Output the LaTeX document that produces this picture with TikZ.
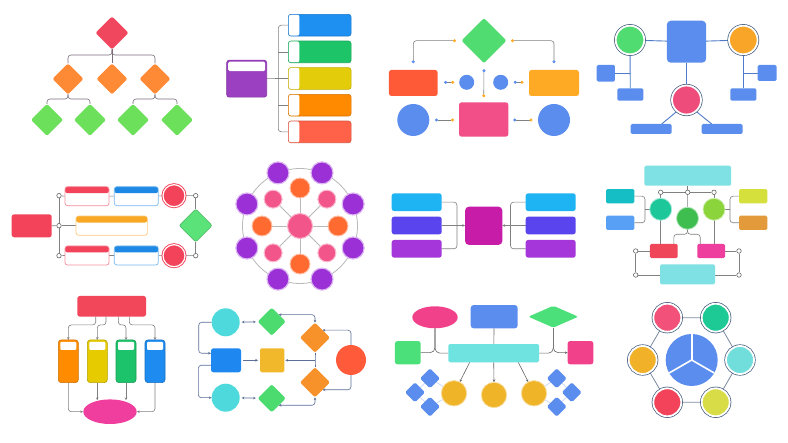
\documentclass[tikz,border=0pt]{standalone}
\usetikzlibrary{shapes.geometric,arrows.meta}
\pgfdeclarelayer{back}
\pgfdeclarelayer{bg}
\pgfsetlayers{back,bg,main}
\definecolor{lnA}{HTML}{7A6E7A}
\definecolor{lnG}{HTML}{808080}
\definecolor{ringcol}{HTML}{42597A}
\definecolor{c1r}{HTML}{F0465E}
\definecolor{c1o}{HTML}{FF8A35}
\definecolor{c1g}{HTML}{6CE05A}
\definecolor{c2p}{HTML}{9A40C0}
\definecolor{c2b}{HTML}{1E90F2}
\definecolor{c2g}{HTML}{1EC468}
\definecolor{c2y}{HTML}{E3CC0A}
\definecolor{c2o}{HTML}{FF8A00}
\definecolor{c2r}{HTML}{FF6249}
\definecolor{c3g}{HTML}{50DC70}
\definecolor{c3r}{HTML}{FF5A37}
\definecolor{c3o}{HTML}{FFAA25}
\definecolor{cblu}{HTML}{5B8DEF}
\definecolor{c3p}{HTML}{F24E88}
\definecolor{c4o}{HTML}{F8A528}
\definecolor{c4p}{HTML}{EE4D7C}
\definecolor{c4l}{HTML}{4F7BC9}
\definecolor{c5r}{HTML}{F2435A}
\definecolor{c5b}{HTML}{1E88E5}
\definecolor{c5o}{HTML}{F9A825}
\definecolor{c5g}{HTML}{5BE37A}
\definecolor{c6u}{HTML}{9B30D6}
\definecolor{c6o}{HTML}{FF6A30}
\definecolor{c6p}{HTML}{F2558A}
\definecolor{c7c}{HTML}{1EB3F2}
\definecolor{c7i}{HTML}{5A44EE}
\definecolor{c7u}{HTML}{A436DA}
\definecolor{c7m}{HTML}{C61CA8}
\definecolor{c8c}{HTML}{7FE1E3}
\definecolor{c8t}{HTML}{1CC79A}
\definecolor{c8g}{HTML}{3DBE4E}
\definecolor{c8l}{HTML}{8CD43C}
\definecolor{c8a}{HTML}{14BEC4}
\definecolor{c8b}{HTML}{58A0F5}
\definecolor{c8y}{HTML}{D6E03C}
\definecolor{c8o}{HTML}{E39A3A}
\definecolor{c8r}{HTML}{F0465A}
\definecolor{c8p}{HTML}{EE3E9E}
\definecolor{c9r}{HTML}{F2475A}
\definecolor{c9o}{HTML}{FF8C00}
\definecolor{c9y}{HTML}{E5CB00}
\definecolor{c9g}{HTML}{1DC36A}
\definecolor{c9b}{HTML}{1E8BF0}
\definecolor{c9p}{HTML}{F03E9E}
\definecolor{c10c}{HTML}{4EDADC}
\definecolor{c10b}{HTML}{1E88F0}
\definecolor{c10g}{HTML}{4CDB6E}
\definecolor{c10y}{HTML}{F0B82A}
\definecolor{c10o}{HTML}{F7922A}
\definecolor{c10r}{HTML}{FF5B3A}
\definecolor{c10l}{HTML}{5C6F96}
\definecolor{c11p}{HTML}{F0418A}
\definecolor{c11g}{HTML}{4CE07A}
\definecolor{c11c}{HTML}{6EE3E0}
\definecolor{c11y}{HTML}{F0B429}
\definecolor{c12a}{HTML}{F2527A}
\definecolor{c12b}{HTML}{1DCA95}
\definecolor{c12c}{HTML}{F1B22A}
\definecolor{c12d}{HTML}{71DEDC}
\definecolor{c12e}{HTML}{F2435A}
\definecolor{c12f}{HTML}{D8DC46}
\begin{document}
\begin{tikzpicture}[x=1pt,y=-1pt,
  bx/.style={rectangle, rounded corners=2.5pt, inner sep=0pt, outer sep=0pt},
  sz/.style 2 args={minimum width=#1pt, minimum height=#2pt},
  cr/.style={circle, inner sep=0pt, outer sep=0pt, minimum size=#1pt},
  dm/.style={diamond, inner sep=0pt, outer sep=0pt, rounded corners=2pt, minimum width=#1pt, minimum height=#1pt},
  ln/.style={draw=lnG, line width=0.6pt, rounded corners=3pt},
  band/.style={path picture={\fill[white,rounded corners=1.5pt] ([xshift=1.5pt,yshift=-1.5pt]path picture bounding box.north west) rectangle ([xshift=-1.5pt,yshift=-#1pt]path picture bounding box.north east);}},
  tab/.style={path picture={\fill[white] (path picture bounding box.north west) rectangle ([xshift=11pt]path picture bounding box.south west);}},
  hdr/.style={fill=white, draw=#1!60!white, line width=0.7pt, path picture={\fill[#1] (path picture bounding box.north west) rectangle ([yshift=-6.5pt]path picture bounding box.north east);}},
  tube/.style={bx, rounded corners=3pt, minimum width=20pt, minimum height=42.7pt, fill=#1, draw=#1!80!black, line width=0.6pt, path picture={\fill[white, rounded corners=1pt] ([xshift=2pt,yshift=-2pt]path picture bounding box.north west) rectangle ([xshift=-2pt,yshift=-10pt]path picture bounding box.north east);}},
  ringc/.style={circle, inner sep=0pt, outer sep=0pt, fill=#1, draw=white, line width=1.8pt, preaction={draw=ringcol, line width=3.2pt}},
  rr/.style={circle, inner sep=0pt, outer sep=0pt, fill=#1, draw=white, line width=1.2pt, preaction={draw=#1, line width=3pt}},
  od/.style={circle, draw=lnG!80!black, fill=white, line width=0.6pt, inner sep=0pt, minimum size=4.5pt},
  dl/.style={draw=lnG, line width=0.6pt, rounded corners=3pt, {Circle[length=3pt,color=cblu]}-{Circle[length=3pt,color=c3o]}},
  tip/.style={-{Stealth[length=2.8pt,width=2.6pt]}},
  btip/.style={{Stealth[length=2.8pt,width=2.6pt]}-{Stealth[length=2.8pt,width=2.6pt]}}
]
\begin{pgfonlayer}{back}
\fill[white] (0,0) rectangle (788,443);
\end{pgfonlayer}
\useasboundingbox (0,0) rectangle (788,443);

% ---------- panel 1: diamond tree
\node[dm=33, fill=c1r] (p1a) at (112,33) {};
\node[dm=31, fill=c1o] (p1b1) at (68,79) {};
\node[dm=31, fill=c1o] (p1b2) at (112,79) {};
\node[dm=31, fill=c1o] (p1b3) at (155,79) {};
\node[dm=32, fill=c1g] (p1c1) at (47,120) {};
\node[dm=32, fill=c1g] (p1c2) at (90,120) {};
\node[dm=32, fill=c1g] (p1c3) at (133,120) {};
\node[dm=32, fill=c1g] (p1c4) at (177,120) {};
\begin{pgfonlayer}{bg}
\draw[ln, draw=lnA] (p1a.south) -- ++(0,5.5) -| (p1b1.north);
\draw[ln, draw=lnA] (p1a.south) -- ++(0,5.5) -| (p1b3.north);
\draw[ln, draw=lnA] (p1a.south) -- (p1b2.north);
\draw[ln, draw=lnA] (p1b1.south) -- ++(0,4.5) -| (p1c1.north);
\draw[ln, draw=lnA] (p1b1.south) -- ++(0,4.5) -| (p1c2.north);
\draw[ln, draw=lnA] (p1b3.south) -- ++(0,4.5) -| (p1c3.north);
\draw[ln, draw=lnA] (p1b3.south) -- ++(0,4.5) -| (p1c4.north);
\end{pgfonlayer}

% ---------- panel 2: bracket list
\node[bx, sz={40}{37}, fill=c2p, draw=c2p!85!black, line width=.6pt, band=11] (p2m) at (246.7,78.7) {};
\node[bx, sz={62.7}{21.7}, fill=c2b, draw=c2b!85!black, line width=.6pt, tab] (p2r1) at (319.7,25.2) {};
\node[bx, sz={62.7}{21.7}, fill=c2g, draw=c2g!85!black, line width=.6pt, tab] (p2r2) at (319.7,51.9) {};
\node[bx, sz={62.7}{21.7}, fill=c2y, draw=c2y!85!black, line width=.6pt, tab] (p2r3) at (319.7,78.5) {};
\node[bx, sz={62.7}{21.7}, fill=c2o, draw=c2o!85!black, line width=.6pt, tab] (p2r4) at (319.7,105.2) {};
\node[bx, sz={62.7}{21.7}, fill=c2r, draw=c2r!85!black, line width=.6pt, tab] (p2r5) at (319.7,131.9) {};
\coordinate (p2j) at (278.3,78.5);
\begin{pgfonlayer}{bg}
\draw[ln] (p2r1.west) -| (p2j) |- (p2r5.west);
\draw[ln] (p2m.east) -- (p2j) -- (p2r3.west);
\draw[ln] (p2r2.west) -- (p2r2.west -| p2j);
\draw[ln] (p2r4.west) -- (p2r4.west -| p2j);
\end{pgfonlayer}

% ---------- panel 3: diamond with boxes and circles
\node[dm=45, fill=c3g] (p3d) at (484,40.7) {};
\node[bx, sz={48.7}{26}, fill=c3r] (p3l) at (413.3,83) {};
\node[bx, sz={50}{26}, fill=c3o] (p3r) at (554,83) {};
\node[cr=15, fill=cblu] (p3s1) at (466.7,82.3) {};
\node[cr=15, fill=cblu] (p3s2) at (500.7,82.3) {};
\node[bx, sz={49.3}{34.3}, fill=c3p] (p3p) at (483.7,119.5) {};
\node[cr=32, fill=cblu] (p3b1) at (413.3,120) {};
\node[cr=32, fill=cblu] (p3b2) at (554,120) {};
\begin{pgfonlayer}{bg}
\draw[dl, shorten <=6.7pt, shorten >=5.5pt] (p3l.north) |- (p3d.west);
\draw[dl, shorten <=6.7pt, shorten >=4.5pt] (p3r.north) |- (p3d.east);
\draw[dl, shorten <=6pt, shorten >=5pt] (p3d.south) -- (p3p.north);
\draw[dl, shorten <=6.5pt, shorten >=5pt] (p3l.east |- p3s1) -- (p3s1.west);
\draw[dl, shorten <=5.5pt, shorten >=5.5pt] (p3s2.east) -- (p3r.west |- p3s2);
\draw[dl, shorten <=5.7pt, shorten >=5pt] (p3b1.east) -- (p3b1.east -| p3p.west);
\draw[dl, shorten <=5pt, shorten >=5.5pt] (p3b2.west -| p3p.east) -- (p3b2.west);
\end{pgfonlayer}

% ---------- panel 4: hub with ringed circles
\node[bx, rounded corners=4pt, sz={39.3}{42}, fill=cblu] (p4m) at (686.5,41.7) {};
\node[ringc=c3g, minimum size=28.6pt] (p4g) at (630,40) {};
\node[ringc=c4o, minimum size=28.6pt] (p4o) at (743.3,40) {};
\node[ringc=c4p, minimum size=29pt] (p4p) at (686.5,100) {};
\node[bx, rounded corners=1.5pt, sz={18.3}{16.7}, fill=cblu] (p4l1) at (605.8,73.3) {};
\node[bx, rounded corners=1.5pt, sz={26}{12.4}, fill=cblu] (p4l2) at (630.3,94.5) {};
\node[bx, rounded corners=1.5pt, sz={26}{12.4}, fill=cblu] (p4r2) at (743.3,94.5) {};
\node[bx, rounded corners=1.5pt, sz={19}{16}, fill=cblu] (p4r1) at (767.2,73) {};
\node[bx, rounded corners=1.5pt, sz={41}{10}, fill=cblu] (p4b1) at (651.2,129) {};
\node[bx, rounded corners=1.5pt, sz={41}{10}, fill=cblu] (p4b2) at (722.2,129) {};
\begin{pgfonlayer}{bg}
\draw[c4l, line width=0.9pt] (p4g) -- (p4m) -- (p4o);
\draw[c4l, line width=0.9pt] (p4m) -- (p4p);
\draw[c4l, line width=0.9pt] (p4g) -- (p4l2);
\draw[c4l, line width=0.9pt] (p4l1.east) -- (p4l1.east -| p4g);
\draw[c4l, line width=0.9pt] (p4o) -- (p4r2);
\draw[c4l, line width=0.9pt] (p4r1.west) -- (p4r1.west -| p4o);
\draw[c4l, line width=0.9pt] (p4p.230) -- ([xshift=-10pt]p4b1.north east);
\draw[c4l, line width=0.9pt] (p4p.-50) -- ([xshift=10pt]p4b2.north west);
\end{pgfonlayer}

% ---------- panel 5: two rows with header boxes
\node[bx, sz={40}{23}, fill=c5r] (p5a) at (31.7,225.8) {};
\node[od] (p5d1) at (59,195.7) {};
\node[od] (p5d2) at (59,225.7) {};
\node[od] (p5d3) at (59,255.7) {};
\node[od] (p5d4) at (195.7,195.7) {};
\node[od] (p5d5) at (195.7,255.7) {};
\node[bx, sz={44}{19}, hdr=c5r] (p5t1) at (87,196.2) {};
\node[bx, sz={44}{19}, hdr=c5b] (p5t2) at (136.3,196.2) {};
\node[bx, sz={71.3}{19.3}, hdr=c5o] (p5m) at (111.7,225.7) {};
\node[bx, sz={44}{19}, hdr=c5r] (p5b1) at (87,255.5) {};
\node[bx, sz={44}{19}, hdr=c5b] (p5b2) at (136.3,255.5) {};
\node[rr=c5r, minimum size=22pt] (p5c1) at (174,195.7) {};
\node[rr=c5r, minimum size=22pt] (p5c2) at (174,255.7) {};
\node[dm=33, fill=c5g, draw=c5g!80!black, line width=0.6pt] (p5g) at (195.7,225.5) {};
\begin{pgfonlayer}{bg}
\draw[ln] (p5a.east) -- (p5d2);
\draw[ln] (p5d1) -- (p5d3);
\draw[ln] (p5d2) -- (p5m.west);
\draw[ln] (p5d1) -- (p5t1.west);
\draw[ln] (p5t1) -- (p5t2) -- (p5c1) -- (p5d4);
\draw[ln] (p5d4) -- (p5g.north);
\draw[ln] (p5g.south) -- (p5d5);
\draw[ln] (p5d3) -- (p5b1.west);
\draw[ln] (p5b1) -- (p5b2) -- (p5c2) -- (p5d5);
\end{pgfonlayer}

% ---------- panel 6: radial network
\node[cr=25, fill=c6p, draw=c6p!45!white, line width=1pt] (p6c) at (300,226) {};
\foreach \i in {0,...,7} {
  \node[cr=22, fill=c6u, draw=c6u!35!white, line width=1.2pt] (p6o\i) at ({300+57.5*cos(22.5+45*\i)},{226+57.5*sin(22.5+45*\i)}) {};
}
\foreach \i in {0,2,4,6} {
  \node[cr=20, fill=c6o, draw=c6o!40!white, line width=1pt] (p6i\i) at ({300+38*cos(45*\i)},{226+38*sin(45*\i)}) {};
}
\foreach \i in {1,3,5,7} {
  \node[cr=18, fill=c6p, draw=c6p!40!white, line width=1pt] (p6i\i) at ({300+38*cos(45*\i)},{226+38*sin(45*\i)}) {};
}
\begin{pgfonlayer}{bg}
\draw[lnG!55!white, line width=0.8pt] (p6c.center) circle[radius=57.5pt];
\foreach \i in {0,...,7} { \draw[lnG!55!white, line width=0.8pt] (p6c) -- (p6i\i); }
\end{pgfonlayer}

% ---------- panel 7: two-sided bracket
\node[bx, sz={50}{17.7}, fill=c7c] (p7l1) at (416.7,202.2) {};
\node[bx, sz={50}{17.7}, fill=c7i] (p7l2) at (416.7,225.5) {};
\node[bx, sz={50}{17.7}, fill=c7u] (p7l3) at (416.7,248.8) {};
\node[bx, sz={50}{17.7}, fill=c7c] (p7r1) at (550.7,202.2) {};
\node[bx, sz={50}{17.7}, fill=c7i] (p7r2) at (550.7,225.5) {};
\node[bx, sz={50}{17.7}, fill=c7u] (p7r3) at (550.7,248.8) {};
\node[bx, rounded corners=4pt, sz={37.3}{38.3}, fill=c7m] (p7c) at (483.7,225.8) {};
\coordinate (p7jl) at (457,225.5);
\coordinate (p7jr) at (510.5,225.5);
\begin{pgfonlayer}{bg}
\draw[ln] (p7l1.east) -| (p7jl) |- (p7l3.east);
\draw[ln, tip] (p7l2.east) -- (p7c.west |- p7l2);
\draw[ln] (p7r1.west) -| (p7jr) |- (p7r3.west);
\draw[ln, tip] (p7r2.west) -- (p7c.east |- p7r2);
\end{pgfonlayer}

% ---------- panel 8: layered circles
\node[bx, rounded corners=1.5pt, sz={86.7}{20}, fill=c8c] (p8t) at (687.7,175.7) {};
\node[od] (p8d1) at (660.7,192.3) {};
\node[od] (p8d2) at (687.7,192.3) {};
\node[od] (p8d3) at (714,192.3) {};
\node[cr=22, fill=c8t, draw=c8t!40!white, line width=0.8pt] (p8c1) at (660.7,209.3) {};
\node[cr=22, fill=c8g, draw=c8g!40!white, line width=0.8pt] (p8c2) at (687.5,218.3) {};
\node[cr=22, fill=c8l, draw=c8l!40!white, line width=0.8pt] (p8c3) at (714,209.3) {};
\node[bx, rounded corners=1.5pt, sz={28.3}{14.3}, fill=c8a] (p8l1) at (620.2,196.2) {};
\node[bx, rounded corners=1.5pt, sz={28.3}{14.3}, fill=c8b] (p8l2) at (620.2,222.8) {};
\node[bx, rounded corners=1.5pt, sz={28.3}{14.3}, fill=c8y] (p8r1) at (753.2,196.2) {};
\node[bx, rounded corners=1.5pt, sz={28.3}{14.3}, fill=c8o] (p8r2) at (753.2,222.8) {};
\node[bx, rounded corners=1.5pt, sz={27.7}{14.3}, fill=c8r] (p8red) at (663.8,251) {};
\node[bx, rounded corners=1.5pt, sz={27.7}{14.3}, fill=c8p] (p8pk) at (711.2,251) {};
\node[bx, rounded corners=1.5pt, sz={55}{20}, fill=c8c] (p8b) at (687.5,274.3) {};
\node[od] (p8d4) at (635.7,251) {};
\node[od] (p8d5) at (739,251) {};
\node[od] (p8d6) at (635.7,275) {};
\node[od] (p8d7) at (739,275) {};
\coordinate (p8jl) at (645,209.3);
\coordinate (p8jr) at (730,209.3);
\begin{pgfonlayer}{bg}
\draw[ln] (p8t) -- (p8d2);
\draw[ln] (p8d1) -- (p8d2) -- (p8d3);
\draw[ln] (p8d1) -- (p8c1);
\draw[ln] (p8d3) -- (p8c3);
\draw[ln] (p8d2) -- (p8c2);
\draw[ln] (p8c1.south) -- (p8c1.south |- p8red.north);
\draw[ln] (p8c3.south) -- (p8c3.south |- p8pk.north);
\draw[ln] (p8c2.south) -- ++(0,5) -| ([xshift=10pt]p8red.north);
\draw[ln] (p8c2.south) -- ++(0,5) -| ([xshift=-11pt]p8pk.north);
\draw[ln] (p8l1.east) -| (p8jl) |- (p8l2.east);
\draw[ln] (p8jl) -- (p8c1.west);
\draw[ln] (p8r1.west) -| (p8jr) |- (p8r2.west);
\draw[ln] (p8jr) -- (p8c3.east);
\draw[ln] (p8red.west) -- (p8d4) -- (p8d6) -- (p8b.west |- p8d6);
\draw[ln] (p8pk.east) -- (p8d5) -- (p8d7) -- (p8b.east |- p8d7);
\end{pgfonlayer}

% ---------- panel 9: tubes
\node[bx, sz={68.7}{20.7}, fill=c9r] (p9t) at (111.7,306.3) {};
\node[tube=c9o] (p9a) at (68.3,361.3) {};
\node[tube=c9y] (p9b) at (97.3,361.3) {};
\node[tube=c9g] (p9c) at (126,361.3) {};
\node[tube=c9b] (p9d) at (155,361.3) {};
\node[ellipse, inner sep=0pt, sz={53.4}{24.6}, fill=c9p] (p9e) at (110,411.7) {};
\begin{pgfonlayer}{bg}
\draw[ln, tip] ([xshift=-16pt]p9t.south) -- ++(0,8.3) -| (p9a.north);
\draw[ln, tip] ([xshift=-5.7pt]p9t.south) -- ++(0,8.3) -| (p9b.north);
\draw[ln, tip] ([xshift=6.6pt]p9t.south) -- ++(0,8.3) -| (p9c.north);
\draw[ln, tip] ([xshift=17.6pt]p9t.south) -- ++(0,8.3) -| (p9d.north);
\draw[ln, tip] (p9a.south) |- (p9e.west);
\draw[ln, tip] (p9b.south) -- (p9b.south |- p9e.133);
\draw[ln, tip] (p9c.south) -- (p9c.south |- p9e.47);
\draw[ln, tip] (p9d.south) |- (p9e.east);
\end{pgfonlayer}

% ---------- panel 10: flow with arrows
\node[cr=28, fill=c10c] (p10c1) at (225.7,322.3) {};
\node[cr=28, fill=c10c] (p10c2) at (225.7,397.7) {};
\node[bx, sz={30}{24}, fill=c10b] (p10bl) at (226,360.3) {};
\node[dm=28, fill=c10g] (p10g1) at (271.7,321.7) {};
\node[dm=28, fill=c10g] (p10g2) at (271.7,398.3) {};
\node[bx, rounded corners=1.5pt, sz={24.3}{24}, fill=c10y] (p10y) at (272.2,360.3) {};
\node[dm=30, fill=c10o] (p10o1) at (315,337.7) {};
\node[dm=30, fill=c10o] (p10o2) at (315,382.3) {};
\node[cr=30, fill=c10r] (p10r) at (351,360) {};
\coordinate (p10j) at (315,360.3);
\begin{pgfonlayer}{bg}
\draw[ln, draw=c10l, btip, shorten <=2pt, shorten >=2pt] (p10c1) -- (p10g1);
\draw[ln, draw=c10l, btip, shorten <=2pt, shorten >=2pt] (p10c2) -- (p10g2);
\draw[ln, draw=c10l, tip] (p10c1.west) -- ++(-13,0) |- ([yshift=7pt]p10bl.west);
\draw[ln, draw=c10l, tip] ([yshift=-5pt]p10bl.west) -- ++(-12.7,0) |- (p10c2.west);
\draw[ln, draw=c10l, tip, shorten <=2pt, shorten >=2pt] (p10bl) -- (p10y);
\draw[ln, draw=c10l] (p10o1.south) -- (p10j) -- (p10o2.north);
\draw[ln, draw=c10l, tip, shorten >=1pt] (p10j) -- (p10y.east);
\draw[ln, draw=c10l, btip] (p10g1.north east) -| (p10o1.north);
\draw[ln, draw=c10l, tip] (p10r.north) |- (p10o1.north east);
\draw[ln, draw=c10l, tip] (p10r.south) |- (p10o2.south east);
\draw[ln, draw=c10l, btip] (p10o2.south) |- (p10g2.south east);
\end{pgfonlayer}

% ---------- panel 11: central bar
\node[ellipse, inner sep=0pt, sz={45.4}{22}, fill=c11p] (p11e) at (435,317.3) {};
\node[bx, rounded corners=3pt, sz={47}{23.3}, fill=cblu] (p11bx) at (494.2,316.7) {};
\node[diamond, inner sep=0pt, rounded corners=2pt, sz={50}{22}, fill=c11g] (p11dm) at (553.3,316.7) {};
\node[bx, rounded corners=1.5pt, sz={90.7}{18.3}, fill=c11c] (p11bar) at (493.7,353.2) {};
\node[bx, sz={25.7}{23.3}, fill=c11g] (p11gs) at (407.8,352.7) {};
\node[bx, sz={25.7}{23.3}, fill=c11p] (p11ps) at (580.5,352.7) {};
\node[cr=25.4, fill=c11y, draw=c11y!45!white, line width=0.8pt] (p11y1) at (454,393.3) {};
\node[cr=25.4, fill=c11y, draw=c11y!45!white, line width=0.8pt] (p11y2) at (494,395) {};
\node[cr=25.4, fill=c11y, draw=c11y!45!white, line width=0.8pt] (p11y3) at (534,393.3) {};
\node[dm=20, rounded corners=1.5pt, fill=cblu] (p11a1) at (430,378.3) {};
\node[dm=20, rounded corners=1.5pt, fill=cblu] (p11a2) at (415,392.3) {};
\node[dm=20, rounded corners=1.5pt, fill=cblu] (p11a3) at (430,406.7) {};
\node[dm=20, rounded corners=1.5pt, fill=cblu] (p11b1) at (556.7,378.3) {};
\node[dm=20, rounded corners=1.5pt, fill=cblu] (p11b2) at (571.7,392.3) {};
\node[dm=20, rounded corners=1.5pt, fill=cblu] (p11b3) at (556.7,406.7) {};
\begin{pgfonlayer}{bg}
\draw[ln, draw=lnG!80!black, rounded corners=5pt] (p11gs.east) -| (p11e.south);
\draw[ln, draw=lnG!80!black, rounded corners=5pt] (p11bar.west) -| (p11e.south);
\draw[ln, draw=lnG!80!black, rounded corners=5pt] (p11bar.east) -| (p11dm.south);
\draw[ln, draw=lnG!80!black, rounded corners=5pt, tip] (p11dm.south) |- (p11ps.west);
\draw[ln, draw=lnG!80!black] (p11bx) -- (p11bar);
\draw[ln, draw=lnG!80!black, tip] ([xshift=-24pt]p11bar.south) -- (p11y1);
\draw[ln, draw=lnG!80!black, tip] (p11bar.south) -- (p11y2.north);
\draw[ln, draw=lnG!80!black, tip] ([xshift=24.6pt]p11bar.south) -- (p11y3);
\draw[cblu!35!white, line width=0.7pt] (p11y1) -- (p11a1) -- (p11a2) -- (p11a3) -- (p11y1);
\draw[cblu!35!white, line width=0.7pt] (p11y3) -- (p11b1) -- (p11b2) -- (p11b3) -- (p11y3);
\end{pgfonlayer}

% ---------- panel 12: hexagon around pie
\node[cr=52, fill=cblu] (p12m) at (691.7,360) {};
\draw[white, line width=1.6pt] (p12m.center) -- (p12m.90);
\draw[white, line width=1.6pt] (p12m.center) -- (p12m.210);
\draw[white, line width=1.6pt] (p12m.center) -- (p12m.330);
\node[ringc=c12a, minimum size=28pt] (p12a) at (667.3,317.7) {};
\node[ringc=c12b, minimum size=28pt] (p12b) at (715.7,317.7) {};
\node[ringc=c12c, minimum size=28pt] (p12c) at (642.7,360) {};
\node[ringc=c12d, minimum size=28pt] (p12d) at (740,360) {};
\node[ringc=c12e, minimum size=28pt] (p12e) at (667.3,402.3) {};
\node[ringc=c12f, minimum size=28pt] (p12f) at (715.7,402.3) {};
\begin{pgfonlayer}{bg}
\draw[ringcol!70!white, line width=0.8pt] (p12a) -- (p12b) -- (p12d) -- (p12f) -- (p12e) -- (p12c) -- (p12a);
\end{pgfonlayer}
\end{tikzpicture}
\end{document}
